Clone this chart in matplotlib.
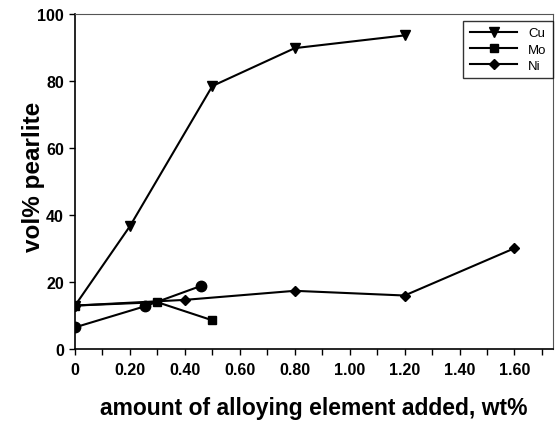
import matplotlib
matplotlib.use("Agg")
import matplotlib.pyplot as plt
from matplotlib.ticker import MultipleLocator

plt.rcParams['font.family'] = ['Liberation Sans', 'DejaVu Sans']

# --- data ---
cu_x = [0, 0.20, 0.50, 0.80, 1.20]
cu_y = [13, 36.7, 78.5, 89.8, 93.6]

mo_x = [0, 0.30, 0.50]
mo_y = [13, 14, 8.6]

ni_x = [0, 0.40, 0.80, 1.20, 1.60]
ni_y = [13, 14.7, 17.4, 16.0, 30.1]

# unlabelled series (circles)
c_x = [0, 0.255, 0.46]
c_y = [6.5, 12.8, 18.9]

xticks = [0, 0.2, 0.4, 0.6, 0.8, 1.0, 1.2, 1.4, 1.6]
xtick_labels = ['0', '0.20', '0.40', '0.60', '0.80', '1.00', '1.20', '1.40', '1.60']
yticks = [0, 20, 40, 60, 80, 100]

fig = plt.figure(figsize=(5.57, 4.27), dpi=100)
ax = fig.add_axes([0.1347, 0.180, 0.858, 0.785])

ax.plot(cu_x, cu_y, color='black', lw=1.5, marker='v', ms=7, label='Cu')
ax.plot(mo_x, mo_y, color='black', lw=1.5, marker='s', ms=5.5, label='Mo')
ax.plot(ni_x, ni_y, color='black', lw=1.5, marker='D', ms=5.5, label='Ni')
ax.plot(c_x, c_y, color='black', lw=1.5, marker='o', ms=7.5)

ax.set_xlim(0, 1.74)
ax.set_ylim(0, 100)
ax.set_xticks(xticks)
ax.set_xticklabels(xtick_labels)
ax.xaxis.set_minor_locator(MultipleLocator(0.1))
ax.set_yticks(yticks)
ax.tick_params(axis='both', which='both', direction='out', length=4, width=1,
               labelsize=11.5)
for lab in ax.get_xticklabels() + ax.get_yticklabels():
    lab.set_fontweight('bold')
ax.tick_params(axis='x', pad=5)
ax.tick_params(axis='y', pad=4)

for side in ['left', 'bottom']:
    ax.spines[side].set_linewidth(1.2)
for side in ['top', 'right']:
    ax.spines[side].set_linewidth(0.8)
    ax.spines[side].set_color('#555555')

ax.set_xlabel('amount of alloying element added, wt%', fontsize=16.5,
              fontweight='bold', labelpad=14)
ax.set_ylabel('vol% pearlite', fontsize=17.5, fontweight='bold')
ax.yaxis.set_label_coords(-0.063, 0.516)

leg = ax.legend(loc='upper right', bbox_to_anchor=(1.0, 0.98), fontsize=9.5,
                frameon=True, fancybox=False, edgecolor='black',
                handlelength=3.6, borderpad=0.5, labelspacing=0.3,
                handletextpad=0.8, borderaxespad=0.0)
leg.get_frame().set_linewidth(1.0)

fig.savefig('out.png', dpi=100)
